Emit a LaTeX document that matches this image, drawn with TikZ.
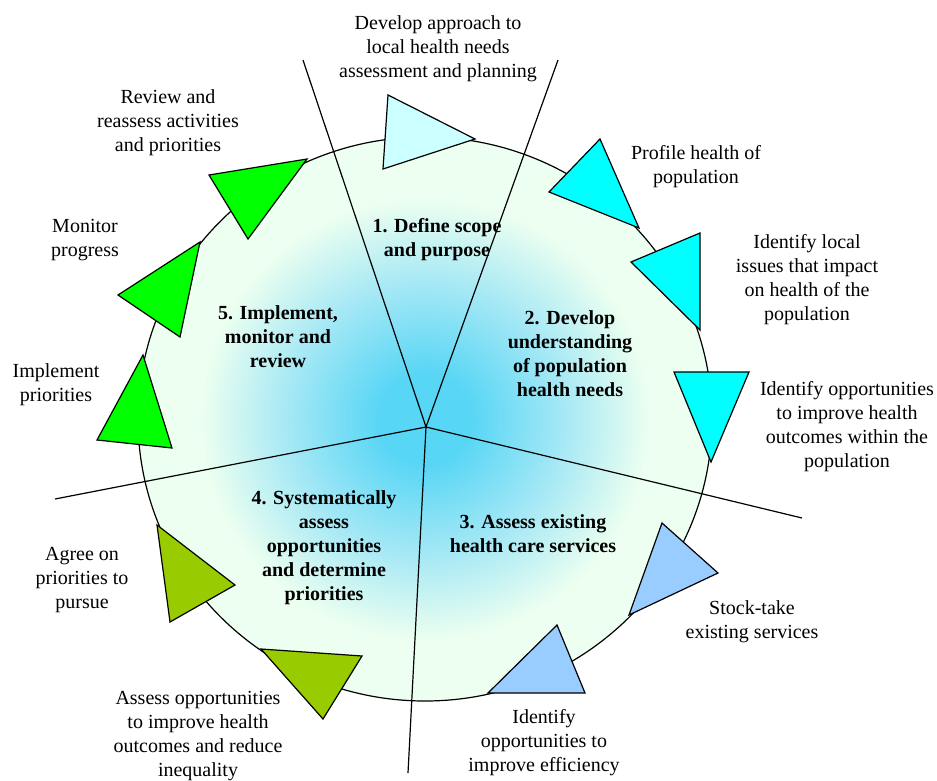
\documentclass[tikz,border=0pt]{standalone}
\usepackage{fontspec}
\setmainfont{Liberation Serif}
\usetikzlibrary{positioning}
\definecolor{scopefill}{RGB}{204,255,255}
\definecolor{needsfill}{RGB}{0,255,255}
\definecolor{servicefill}{RGB}{153,204,255}
\definecolor{priorityfill}{RGB}{153,204,0}
\definecolor{reviewfill}{RGB}{0,255,0}
\definecolor{hubblue}{RGB}{88,214,245}
\definecolor{midblue}{RGB}{165,232,245}
\definecolor{rimgreen}{RGB}{236,255,240}
\pgfdeclareradialshading{discshade}{\pgfpoint{0bp}{0bp}}{color(0bp)=(hubblue); color(4bp)=(hubblue); color(12bp)=(midblue); color(19.5bp)=(rimgreen); color(25bp)=(rimgreen); color(50bp)=(rimgreen)}

\begin{document}
\begin{tikzpicture}[x=1pt, y=-1pt,
    stage/.style={font=\fontsize{20}{24}\selectfont\bfseries, align=center, inner sep=0pt},
    task/.style={font=\fontsize{20}{24}\selectfont, align=center, inner sep=0pt},
    wedge/.style={draw, line width=1.2pt, line join=miter},
    spoke/.style={line width=1.2pt}
]
    \useasboundingbox (0,0) rectangle (937,780);

    % Cycle disc
    \shade[shading=discshade, draw, line width=1.2pt] (425,419) ellipse [x radius=287, y radius=282];

    % Spokes
    \coordinate (hub) at (426,427);
    \coordinate (s1) at (303,60);
    \coordinate (s2) at (558,60);
    \coordinate (s3) at (802,518);
    \coordinate (s4) at (408,773);
    \coordinate (s5) at (55,499);
    \draw[spoke] (hub) -- (s1);
    \draw[spoke] (hub) -- (s2);
    \draw[spoke] (hub) -- (s3);
    \draw[spoke] (hub) -- (s4);
    \draw[spoke] (hub) -- (s5);

    % Step markers
    \draw[wedge, fill=scopefill] (388,95) -- (475,139) -- (383,169) -- cycle;

    \draw[wedge, fill=needsfill] (600,139) -- (549,192) -- (639,228) -- cycle;
    \draw[wedge, fill=needsfill] (700,233) -- (631,262) -- (700,330) -- cycle;
    \draw[wedge, fill=needsfill] (674,372) -- (749,372) -- (711,462) -- cycle;

    \draw[wedge, fill=servicefill] (662,523) -- (718,573) -- (629,615) -- cycle;
    \draw[wedge, fill=servicefill] (557,625) -- (585,693) -- (488,693) -- cycle;

    \draw[wedge, fill=priorityfill] (157,525) -- (235,585) -- (170,622) -- cycle;
    \draw[wedge, fill=priorityfill] (261,649) -- (362,656) -- (323,719) -- cycle;

    \draw[wedge, fill=reviewfill] (143,355) -- (97,440) -- (172,448) -- cycle;
    \draw[wedge, fill=reviewfill] (200,242) -- (118,295) -- (180,337) -- cycle;
    \draw[wedge, fill=reviewfill] (209,175) -- (307,159) -- (248,239) -- cycle;

    % Stages
    \node[stage] (scope) at (437,240) {1. Define scope\\and purpose};
    \node[stage] (needs) at (570,354) {2. Develop\\understanding\\of population\\health needs};
    \node[stage] (services) at (533,534) {3. Assess existing\\health care services};
    \node[stage] (assess) at (324,548) {4. Systematically\\assess\\opportunities\\and determine\\priorities};
    \node[stage] (review) at (278,337) {5. Implement,\\monitor and\\review};

    % Tasks
    \node[task] (approach) at (438,49) {Develop approach to\\local health needs\\assessment and planning};
    \node[task] (profile) at (696,167) {Profile health of\\population};
    \node[task] (issues) at (807,280) {Identify local\\issues that impact\\on health of the\\population};
    \node[task] (outcomes) at (847,427) {Identify opportunities\\to improve health\\outcomes within the\\population};
    \node[task] (stocktake) at (752,622) {Stock-take\\existing services};
    \node[task] (efficiency) at (544,743) {Identify\\opportunities to\\improve efficiency};
    \node[task] (inequality) at (198,736) {Assess opportunities\\to improve health\\outcomes and reduce\\inequality};
    \node[task] (agree) at (82,580) {Agree on\\priorities to\\pursue};
    \node[task] (implement) at (56,385) {Implement\\priorities};
    \node[task] (monitor) at (85,240) {Monitor\\progress};
    \node[task] (reassess) at (168,123) {Review and\\reassess activities\\and priorities};
\end{tikzpicture}
\end{document}
